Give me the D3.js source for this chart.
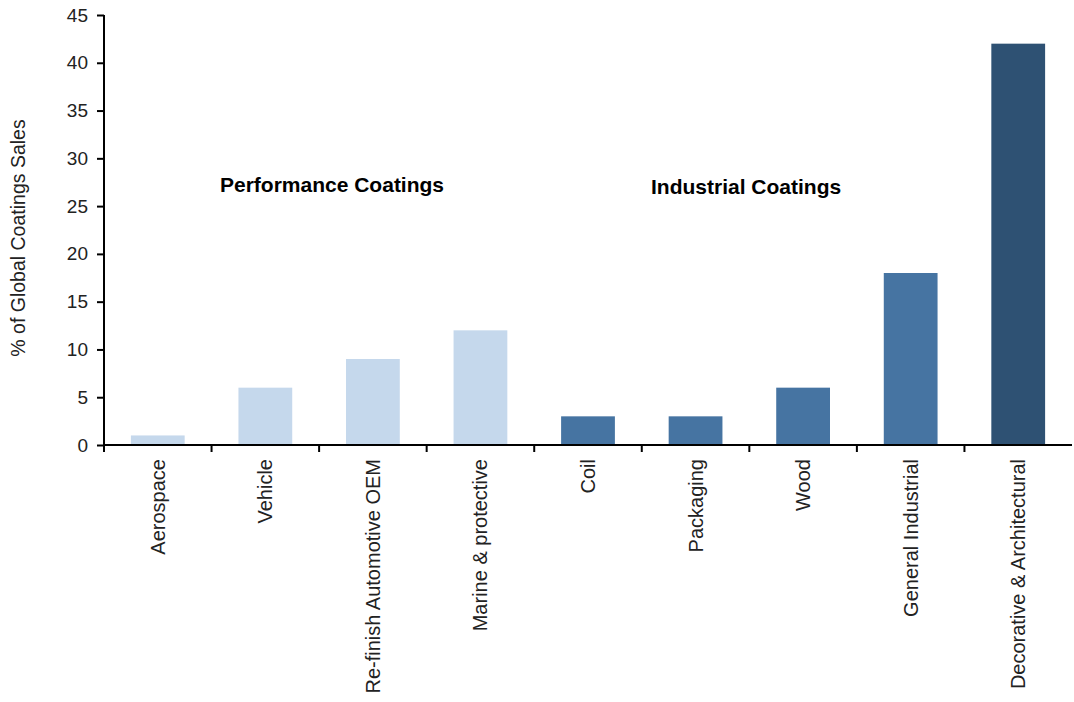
<!DOCTYPE html>
<html>
<head>
<meta charset="utf-8">
<script src="https://cdn.jsdelivr.net/npm/d3@7"></script>
<style>
  html, body { margin: 0; padding: 0; background: #fff; }
  svg { display: block; }
  text { font-family: "Liberation Sans", Arial, Helvetica, sans-serif; }
</style>
</head>
<body>
<div id="chart"></div>
<script>
// Share of global coatings sales by end-market segment
const categories = ["Aerospace", "Vehicle", "Re-finish Automotive OEM", "Marine & protective",
                    "Coil", "Packaging", "Wood", "General Industrial", "Decorative & Architectural"];
const values = [1, 6, 9, 12, 3, 3, 6, 18, 42];
const groups = ["performance", "performance", "performance", "performance",
                "industrial", "industrial", "industrial", "industrial", "decorative"];
const yTicks = [0, 5, 10, 15, 20, 25, 30, 35, 40, 45];
// Group headings: "at" is the category index (fractional) the heading is centred on
const groupLabels = [
  { text: "Performance Coatings", at: 1.62, value: 26.5 },
  { text: "Industrial Coatings", at: 5.47, value: 26.3 }
];

const colors = { performance: "#c5d8ec", industrial: "#4674a2", decorative: "#2e5173" };

const width = 1074, height = 702;
const margin = { top: 15, right: 2, bottom: 257, left: 104 };

const svg = d3.select("#chart").append("svg")
  .attr("width", width).attr("height", height);

const x = d3.scaleBand()
  .domain(categories)
  .range([margin.left, width - margin.right])
  .paddingInner(0.5).paddingOuter(0.25);

// Continuous position by category index, centred on each band
const xi = d3.scaleLinear()
  .domain([0, 1])
  .range([x(categories[0]) + x.bandwidth() / 2, x(categories[1]) + x.bandwidth() / 2]);

const y = d3.scaleLinear()
  .domain([0, 45])
  .range([height - margin.bottom, margin.top]);

// Bars
svg.append("g").selectAll("rect")
  .data(categories)
  .join("rect")
  .attr("x", d => x(d))
  .attr("width", x.bandwidth())
  .attr("y", (d, i) => y(values[i]))
  .attr("height", (d, i) => y(0) - y(values[i]))
  .attr("fill", (d, i) => colors[groups[i]]);

// Y axis
const yAxis = svg.append("g")
  .attr("transform", `translate(${margin.left},0)`)
  .call(d3.axisLeft(y).tickValues(yTicks).tickSize(7).tickPadding(9));
yAxis.select(".domain").attr("stroke", "#000").attr("stroke-width", 2)
  .attr("d", `M0,${y(45)}V${y(0)}`);
yAxis.selectAll(".tick line").attr("stroke", "#000").attr("stroke-width", 2);
yAxis.selectAll(".tick text").attr("font-size", 19).attr("fill", "#222")
  .style("font-family", "'Liberation Sans', Arial, sans-serif");

// X axis baseline with boundary ticks between categories
const xg = svg.append("g");
xg.append("line")
  .attr("x1", margin.left).attr("x2", width - margin.right)
  .attr("y1", y(0)).attr("y2", y(0))
  .attr("stroke", "#000").attr("stroke-width", 2);
xg.selectAll(".bt")
  .data(categories)
  .join("line")
  .attr("class", "bt")
  .attr("x1", d => x(d) - x.bandwidth() / 2)
  .attr("x2", d => x(d) - x.bandwidth() / 2)
  .attr("y1", y(0)).attr("y2", y(0) + 7)
  .attr("stroke", "#000").attr("stroke-width", 2);

// Category labels, rotated
xg.selectAll(".lab")
  .data(categories)
  .join("text")
  .attr("class", "lab")
  .attr("transform", d => `translate(${x(d) + x.bandwidth() / 2 + 7},${y(0) + 14}) rotate(-90)`)
  .attr("text-anchor", "end")
  .attr("font-size", 20)
  .attr("fill", "#222")
  .text(d => d);

// Y axis title
svg.append("text")
  .attr("transform", `translate(25,${(y(0) + y(45)) / 2 + 8}) rotate(-90)`)
  .attr("text-anchor", "middle")
  .attr("font-size", 19.5)
  .attr("fill", "#222")
  .text("% of Global Coatings Sales");

// Segment group headings
svg.append("g").selectAll("text")
  .data(groupLabels)
  .join("text")
  .attr("x", d => xi(d.at))
  .attr("y", d => y(d.value))
  .attr("text-anchor", "middle")
  .attr("font-size", 21)
  .attr("font-weight", "bold")
  .attr("fill", "#000")
  .text(d => d.text);
</script>
</body>
</html>
